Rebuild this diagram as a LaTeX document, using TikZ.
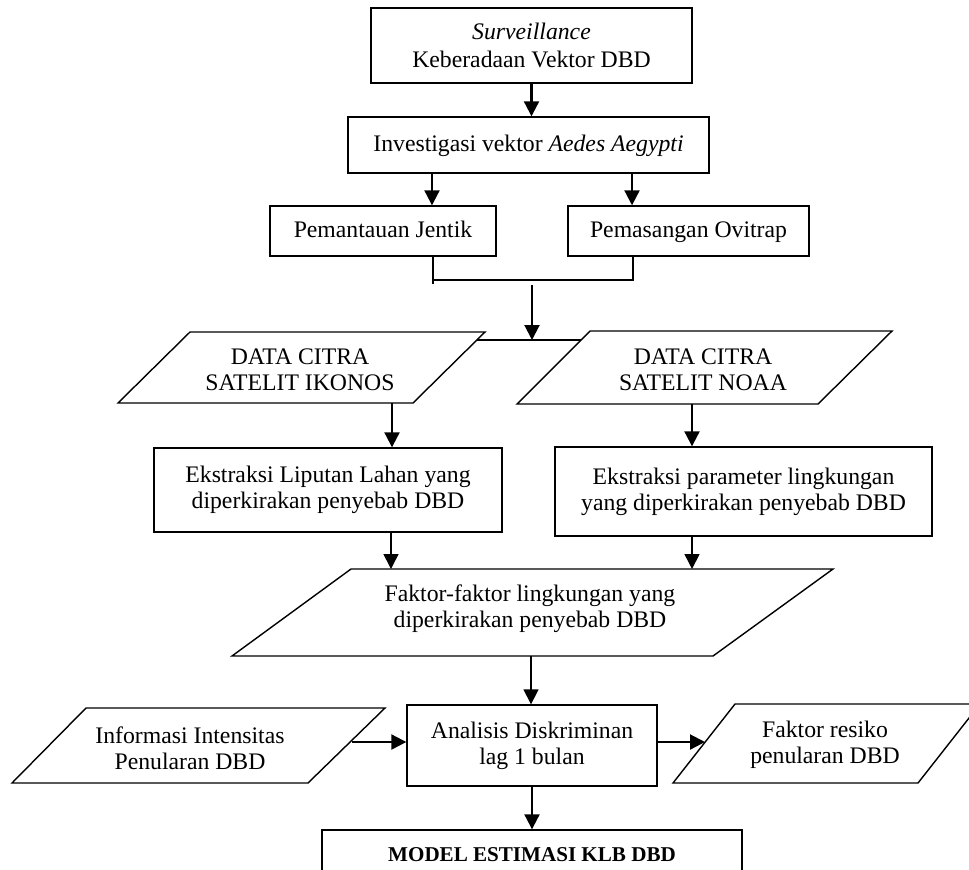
\documentclass[tikz,border=0pt]{standalone}
\usepackage{fontspec}
\setmainfont{Liberation Serif}
\usetikzlibrary{arrows.meta}

\begin{document}
\begin{tikzpicture}[
  x=0.02cm, y=-0.02cm,
  every node/.style={font=\fontsize{13.5}{15}\selectfont, align=center, inner sep=0pt},
  box/.style={rectangle, draw, line width=0.8pt},
  oneline/.style={text height=10pt, text depth=2.5pt},
  para/.style={draw, line width=0.8pt},
  line/.style={line width=1pt},
  arr/.style={-{Triangle[length=3mm, width=3mm]}, line width=1.2pt},
  arrthin/.style={-{Triangle[length=3mm, width=3mm]}, line width=0.9pt},
]
  \useasboundingbox (0,0) rectangle (969,869);

  \node[box, minimum width=6.42cm, minimum height=1.5cm] (surv) at (531.5,45.5) {\textit{Surveillance}\\[0.8pt]Keberadaan Vektor DBD};
  \node[box, oneline, minimum width=7.22cm, minimum height=1.12cm] (invest) at (528.5,145) {Investigasi vektor \textit{Aedes Aegypti}};
  \node[box, oneline, minimum width=4.52cm, minimum height=1cm] (jentik) at (383,231) {Pemantauan Jentik};
  \node[box, oneline, minimum width=4.82cm, minimum height=1cm] (ovitrap) at (688.5,231) {Pemasangan Ovitrap};
  \draw[arr] (surv.south) -- (surv.south |- invest.north);
  \draw[arr] ([xshift=0.98cm]jentik.north |- invest.south) -- ([xshift=0.98cm]jentik.north);
  \draw[arr] ([xshift=-1.13cm]ovitrap.north |- invest.south) -- ([xshift=-1.13cm]ovitrap.north);

  % join of both surveys
  \draw[line] ([xshift=1cm]jentik.south) -- ++(0,27);
  \draw[line] ([xshift=1cm]jentik.south) ++(0,23) -| ([xshift=-1.11cm]ovitrap.south);
  \coordinate (drop) at (532,285);
  \coordinate (merge) at (532,340);
  \draw[arr] (drop) -- (merge);

  % satellite data
  \draw[para] (118,403) -- (190,332) -- (485,332) -- (413,403) -- cycle;
  \node (ikonos) at (300,370) {DATA CITRA\\SATELIT IKONOS};
  \draw[para] (517,404) -- (590,331) -- (892,331) -- (818,404) -- cycle;
  \node (noaa) at (703,370) {DATA CITRA\\SATELIT NOAA};
  \coordinate (ikonos-e) at (477,340);
  \coordinate (noaa-w) at (581,340);
  \draw[line] (ikonos-e) -- (noaa-w);
  \coordinate (ikonos-s) at (392,403);
  \coordinate (noaa-s) at (692,404);

  \node[box, minimum width=6.96cm, minimum height=1.68cm] (ekstr1) at (328,490) {Ekstraksi Liputan Lahan yang\\diperkirakan penyebab DBD};
  \node[box, minimum width=7.54cm, minimum height=1.78cm] (ekstr2) at (743.5,491.5) {Ekstraksi parameter lingkungan\\yang diperkirakan penyebab DBD};
  \draw[arr] (ikonos-s) -- (ikonos-s |- ekstr1.north);
  \draw[arr] (noaa-s) -- (noaa-s |- ekstr2.north);

  % environmental factors
  \draw[para] (232,656) -- (351,569) -- (833,569) -- (713,656) -- cycle;
  \node (faktor) at (530,609) {Faktor-faktor lingkungan yang\\diperkirakan penyebab DBD};
  \coordinate (faktor-n) at (530,569);
  \coordinate (faktor-s) at (531,656);
  \draw[arrthin] ([xshift=1.26cm]ekstr1.south) -- ([xshift=1.26cm]ekstr1.south |- faktor-n);
  \draw[arrthin] ([xshift=-1.03cm]ekstr2.south) -- ([xshift=-1.03cm]ekstr2.south |- faktor-n);

  \node[box, minimum width=5cm, minimum height=1.62cm] (analisis) at (532,745.5) {Analisis Diskriminan\\lag 1 bulan};
  \draw[arrthin] (faktor-s) -- (faktor-s |- analisis.north);

  \draw[para] (12,783) -- (86,708) -- (385,708) -- (308,783) -- cycle;
  \node (info) at (190,748) {Informasi Intensitas\\Penularan DBD};
  \coordinate (info-e) at (352,742);
  \draw[arr] (info-e) -- (info-e -| analisis.west);

  \draw[para] (673,783) -- (735,704) -- (980,704) -- (918,783) -- cycle;
  \node (resiko) at (825,745) {Faktor resiko\\penularan DBD};
  \coordinate (resiko-w) at (705,742);
  \draw[arr] (analisis.east |- resiko-w) -- (resiko-w);

  \node[box, minimum width=8.4cm, minimum height=1cm, font=\fontsize{12}{14}\selectfont\bfseries] (model) at (532,855) {MODEL ESTIMASI KLB DBD};
  \draw[arr] (analisis.south) -- (model.north);
\end{tikzpicture}
\end{document}
